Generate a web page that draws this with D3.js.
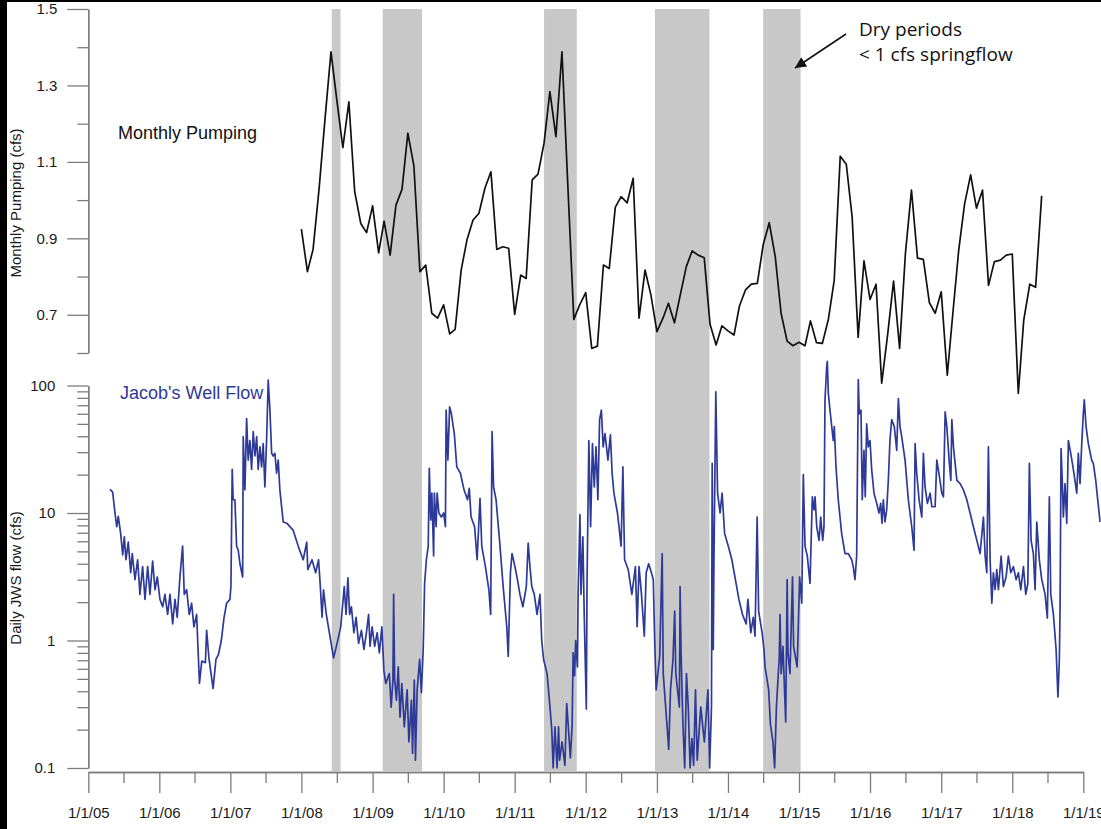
<!DOCTYPE html>
<html><head><meta charset="utf-8">
<script src="https://cdn.jsdelivr.net/npm/d3@7/dist/d3.min.js"></script>
<style>
body{margin:0;background:#fff;}
svg{display:block;font-family:Arial,"Liberation Sans",sans-serif;}
</style>
</head><body>
<svg id="chart" width="1101" height="829"></svg>
<script>
// ---------------- DATA ----------------
const xTickLabels = ["1/1/05","1/1/06","1/1/07","1/1/08","1/1/09","1/1/10","1/1/11","1/1/12","1/1/13","1/1/14","1/1/15","1/1/16","1/1/17","1/1/18","1/1/19"];
const pumpTickLabels = ["1.5","1.3","1.1","0.9","0.7"];
const pumpTickValues = [1.5,1.3,1.1,0.9,0.7];
const flowTickLabels = ["100","10","1","0.1"];
const flowTickValues = [100,10,1,0.1];

const dryPeriodStarts = ["2008-06-05","2009-02-22","2011-06-01","2012-12-22","2014-07-01"];
const dryPeriodEnds   = ["2008-07-20","2009-09-12","2011-11-16","2013-09-28","2015-01-09"];

const pumpStartMonth = "2008-01-01";
const pumpValues = [
 0.924,0.813,0.871,1.03,1.21,1.388,1.262,1.137,1.257,1.022,0.939,0.915,
 0.985,0.862,0.945,0.856,0.987,1.028,1.175,1.09,0.813,0.830,0.704,0.691,
 0.726,0.650,0.662,0.817,0.896,0.948,0.965,1.031,1.074,0.871,0.878,0.874,
 0.701,0.804,0.795,1.053,1.068,1.149,1.284,1.166,1.388,1.04,0.688,0.726,
 0.758,0.612,0.618,0.830,0.821,0.981,1.009,0.993,1.057,0.691,0.817,0.752,
 0.656,0.691,0.730,0.679,0.752,0.826,0.867,0.856,0.849,0.675,0.621,0.671,
 0.658,0.647,0.723,0.765,0.780,0.782,0.883,0.941,0.852,0.704,0.631,0.619,
 0.628,0.619,0.684,0.627,0.625,0.688,0.79,1.115,1.094,0.957,0.641,0.841,
 0.740,0.780,0.521,0.65,0.788,0.612,0.861,1.026,0.848,0.845,0.732,0.704,
 0.760,0.542,0.70,0.87,0.990,1.066,0.979,1.026,0.777,0.839,0.843,0.856,
 0.859,0.494,0.686,0.780,0.772,1.011
];

const flowYears = [
2005.305,2005.343,2005.376,2005.400,2005.422,2005.456,2005.484,2005.507,2005.530,2005.563,2005.597,2005.619,2005.657,2005.695,2005.727,2005.765,2005.798,2005.836,2005.868,2005.906,2005.939,2005.971,
2006.009,2006.047,2006.079,2006.117,2006.150,2006.188,2006.220,2006.252,2006.290,2006.328,2006.351,2006.385,2006.421,2006.455,2006.487,2006.525,2006.551,2006.565,2006.597,2006.648,2006.666,2006.698,2006.757,2006.797,2006.833,2006.873,2006.910,2006.947,2006.994,
2007.008,2007.026,2007.040,2007.064,2007.088,2007.111,2007.135,2007.173,2007.181,2007.205,2007.229,2007.251,2007.275,2007.299,2007.322,2007.346,2007.370,2007.392,2007.416,2007.440,2007.462,2007.486,2007.510,2007.533,2007.557,2007.581,2007.603,2007.627,2007.651,2007.674,2007.697,2007.744,2007.797,2007.885,2007.955,
2008.025,2008.075,2008.090,2008.149,2008.200,2008.241,2008.266,2008.290,2008.311,2008.350,2008.401,2008.452,2008.501,2008.552,2008.602,2008.627,2008.653,2008.677,2008.702,2008.737,2008.768,2008.803,2008.843,2008.878,2008.913,2008.944,2008.964,2008.993,
2009.029,2009.064,2009.095,2009.130,2009.159,2009.185,2009.235,2009.261,2009.286,2009.296,2009.310,2009.335,2009.361,2009.386,2009.411,2009.446,2009.486,2009.511,2009.546,2009.562,2009.587,2009.603,2009.627,2009.662,2009.687,2009.712,2009.732,2009.757,2009.783,2009.798,2009.818,2009.834,2009.859,2009.869,2009.894,2009.908,2009.933,2009.968,
2010.000,2010.025,2010.035,2010.060,2010.084,2010.109,2010.150,2010.185,2010.236,2010.287,2010.336,2010.361,2010.386,2010.436,2010.471,2010.512,2010.537,2010.588,2010.637,2010.662,2010.682,2010.703,2010.738,2010.787,2010.838,2010.889,2010.909,2010.940,2010.963,
2011.004,2011.039,2011.074,2011.115,2011.164,2011.190,2011.215,2011.241,2011.276,2011.315,2011.356,2011.381,2011.407,2011.456,2011.497,2011.522,2011.542,2011.567,2011.597,2011.618,2011.632,2011.667,2011.707,2011.733,2011.758,2011.784,2011.808,2011.823,2011.843,2011.859,2011.884,2011.893,2011.919,2011.934,2011.960,2011.979,
2012.009,2012.019,2012.044,2012.069,2012.095,2012.120,2012.145,2012.171,2012.195,2012.220,2012.245,2012.271,2012.312,2012.347,2012.371,2012.396,2012.446,2012.497,2012.522,2012.546,2012.597,2012.648,2012.698,2012.722,2012.749,2012.783,2012.823,2012.849,2012.884,2012.923,2012.949,2012.964,2012.975,2012.989,
2013.039,2013.074,2013.089,2013.166,2013.191,2013.226,2013.250,2013.266,2013.316,2013.326,2013.341,2013.366,2013.391,2013.416,2013.441,2013.467,2013.492,2013.517,2013.543,2013.567,2013.617,2013.668,2013.718,2013.742,2013.768,2013.778,2013.793,2013.803,2013.829,2013.854,2013.889,2013.918,2013.953,
2014.004,2014.055,2014.105,2014.154,2014.205,2014.256,2014.281,2014.321,2014.356,2014.381,2014.411,2014.432,2014.481,2014.507,2014.522,2014.573,2014.598,2014.633,2014.657,2014.682,2014.723,2014.733,2014.749,2014.774,2014.813,2014.833,2014.845,2014.873,2014.909,2014.924,2014.973,2014.984,
2015.009,2015.039,2015.061,2015.085,2015.117,2015.155,2015.188,2015.212,2015.226,2015.250,2015.282,2015.306,2015.334,2015.352,2015.366,2015.390,2015.399,2015.413,2015.437,2015.461,2015.483,2015.497,2015.521,2015.553,2015.601,2015.648,2015.694,2015.742,2015.764,2015.788,2015.812,2015.835,2015.849,2015.873,2015.891,2015.915,2015.933,2015.953,2015.976,
2016.000,2016.023,2016.056,2016.094,2016.126,2016.150,2016.168,2016.187,2016.210,2016.234,2016.257,2016.280,2016.304,2016.341,2016.375,2016.398,2016.421,2016.445,2016.492,2016.538,2016.586,2016.618,2016.633,2016.656,2016.689,2016.727,2016.749,2016.773,2016.806,2016.844,2016.868,2016.914,2016.938,2016.975,
2017.008,2017.031,2017.055,2017.079,2017.111,2017.135,2017.149,2017.172,2017.220,2017.266,2017.312,2017.360,2017.406,2017.453,2017.501,2017.547,2017.594,2017.618,2017.641,2017.664,2017.688,2017.712,2017.734,2017.758,2017.782,2017.805,2017.843,2017.875,2017.913,2017.945,2017.979,
2018.016,2018.054,2018.086,2018.120,2018.157,2018.190,2018.219,2018.241,2018.265,2018.297,2018.321,2018.345,2018.381,2018.415,2018.462,2018.494,2018.522,2018.542,2018.579,2018.603,2018.617,2018.643,2018.663,2018.673,2018.687,2018.705,2018.719,2018.743,2018.767,2018.790,2018.823,2018.860,2018.908,2018.930,2018.954,2018.978,
2019.000,2019.014,2019.039,2019.071,2019.118,2019.141,2019.175,2019.203,2019.236
];
const flowValues = [
15.3,14.6,10.0,7.8,9.4,6.9,4.7,6.5,4.3,5.9,3.4,4.8,3.0,4.3,2.3,3.8,2.1,3.8,2.3,4.2,2.5,3.15,
2.1,1.84,2.3,1.6,2.3,1.35,2.1,1.52,3.15,5.5,2.3,2.5,1.6,1.96,1.28,1.6,0.71,0.46,0.69,0.67,1.2,0.73,0.42,0.71,0.78,1.0,1.5,1.96,2.1,
2.65,22,12.7,12.7,5.5,5.1,4.0,3.15,39.7,15.2,55,26,37,22,43.5,28,39.7,22,33,23,35,16,37,110,64,29.4,28,29.4,20.5,26,15.2,8.5,8.3,7.3,5.5,
4.3,5.9,3.6,4.3,3.4,4.3,2.65,1.52,2.5,1.6,1.08,0.73,0.95,1.28,2.65,1.6,3.1,1.6,1.84,1.15,1.52,0.95,1.2,0.85,1.15,1.6,0.9,1.28,
0.9,1.15,0.8,1.28,0.58,0.46,0.55,0.3,0.49,2.3,0.5,0.34,0.62,0.25,0.46,0.21,0.41,0.16,0.34,0.13,0.49,0.115,0.41,0.71,0.39,0.85,2.8,4.3,5.5,22.4,8.8,14.3,4.6,14.3,7.8,14.3,10,9.3,
10,7.8,64,26,68,60,42,23,20.5,15.2,12.7,15.6,9.3,7.8,4.3,13,5.5,3.8,2.5,1.6,43.5,16,12.7,6.1,2.65,1.28,0.75,3.4,4.8,
3.8,3.0,2.3,1.84,2.65,5.8,3.8,2.65,2.3,1.6,2.3,1.0,0.71,0.55,0.3,0.2,0.1,0.21,0.1,0.21,0.115,0.16,0.105,0.32,0.2,0.12,0.21,0.8,0.53,1.0,0.62,2.3,9.7,2.3,6.5,1.6,
0.29,3.0,37,7.8,35,16,33,12.7,54,64,33,42,26,41,20.5,14.3,10,5.5,23,4.3,3.6,2.3,3.8,1.28,3.8,2.3,1.08,3.4,4.0,3.4,3.0,1.28,0.75,0.41,
0.75,4.8,0.55,0.14,0.41,0.71,1.7,0.55,0.3,2.65,0.75,0.22,0.1,0.55,0.3,0.1,0.17,0.105,0.41,0.115,0.3,0.16,0.41,0.1,0.3,24.5,0.85,4.3,89,14.3,10,14.3,6.9,
5.5,4.3,3.0,2.1,1.6,1.35,2.1,1.15,1.52,1.08,9.3,1.7,1.15,0.85,0.62,0.41,0.22,0.16,0.1,0.3,0.75,1.6,0.55,0.9,0.23,3.0,0.8,0.55,3.15,0.9,0.62,0.95,
3.15,1.96,20,5.5,4.6,2.8,13.4,10.6,13.4,7.8,6.1,9.3,6.1,7.8,77,140,155,87,64,47.6,37,47.6,23,12.7,6.9,4.8,4.8,4.3,3.8,3.0,4.6,111,60,64,12.7,31,13.4,50,33,
37,22,14.3,11.9,10,11.9,8.3,12.7,8.5,10.6,18,37,54,47.6,31,79,47.6,39.7,26,12.7,7.8,5.1,35,20.5,12.7,9.3,29.4,16,11.9,14.3,11.2,11.2,26,19.2,
14.3,13.4,62,47.6,26,18,54,33,18,17,15.2,12.7,10,7.8,6.1,4.8,9.3,4.6,3.4,33,4.3,1.96,3.4,2.5,3.6,2.5,4.6,2.65,3.15,4.6,3.4,
3.8,3.0,3.4,2.5,3.8,2.3,2.8,24.5,6.1,4.8,2.5,8.5,4.3,3.0,2.3,1.5,13.4,2.3,1.6,1.08,0.85,0.36,0.71,1.84,32,17,9.3,17,8.3,37,29.4,22,14.3,29.4,17,35,
60,77,47.6,35,26,24.5,18,12.7,8.5
];

// ---------------- CHART ----------------
const svg = d3.select("#chart");
const FONT = "Arial, 'Liberation Sans', sans-serif";
const AXIS_COLOR = "#7c7c7c";
const BLUE = "#2e3a98";

function decYear(t){
  const y = Math.floor(t);
  const a = Date.UTC(y,0,1), b = Date.UTC(y+1,0,1);
  return new Date(a + (t - y) * (b - a));
}
const parse = d3.utcParse("%Y-%m-%d");

const x = d3.scaleUtc()
  .domain([new Date(Date.UTC(2005,0,1)), new Date(Date.UTC(2019,0,1))])
  .range([88.3, 1083.3]);
const yPump = d3.scaleLinear().domain([0.6, 1.5]).range([353, 9]);
const yFlow = d3.scaleLog().domain([0.1, 100]).range([768, 385.5]);

svg.append("rect").attr("width",1101).attr("height",829).attr("fill","#fff");

// dry-period bands
const bands = dryPeriodStarts.map((s,i)=>({s:parse(s), e:parse(dryPeriodEnds[i])}));
svg.append("g").selectAll("rect").data(bands).join("rect")
  .attr("x", d=>x(d.s))
  .attr("width", d=>x(d.e)-x(d.s))
  .attr("y", yPump(1.5))
  .attr("height", yFlow(0.1) + 3 - yPump(1.5))
  .attr("fill", "#c8c8c8");

function styleAxis(g){
  g.select(".domain").attr("stroke", AXIS_COLOR).attr("stroke-width", 1.3);
  g.selectAll(".tick line").attr("stroke", AXIS_COLOR).attr("stroke-width", 1.3);
  g.selectAll(".tick text").attr("fill", "#1a1a1a")
    .style("font-size", "15px").style("font-family", FONT);
}

// pumping axis
svg.append("g").attr("transform","translate(88.3,0)")
  .call(d3.axisLeft(yPump).tickValues(pumpTickValues).tickSize(21).tickSizeOuter(0)
        .tickPadding(10).tickFormat((d,i)=>pumpTickLabels[i]))
  .call(styleAxis);
svg.append("g").attr("transform","translate(88.3,0)")
  .call(d3.axisLeft(yPump).tickValues([1.4,1.2,1.0,0.8,0.6]).tickSize(11).tickSizeOuter(0).tickFormat(""))
  .call(styleAxis);

// flow axis
const minorFlow = [];
[0.1,1,10].forEach(b=>{ for(let k=2;k<=9;k++) minorFlow.push(b*k); });
svg.append("g").attr("transform","translate(88.3,0)")
  .call(d3.axisLeft(yFlow).tickValues(flowTickValues).tickSize(21).tickSizeOuter(0)
        .tickPadding(12).tickFormat((d,i)=>flowTickLabels[i]))
  .call(styleAxis);
svg.append("g").attr("transform","translate(88.3,0)")
  .call(d3.axisLeft(yFlow).tickValues(minorFlow).tickSize(11).tickSizeOuter(0).tickFormat(""))
  .call(styleAxis);

// x axis
const yearTicks = d3.utcYear.range(new Date(Date.UTC(2005,0,1)), new Date(Date.UTC(2019,0,2)));
const midTicks = d3.utcYear.range(new Date(Date.UTC(2005,0,1)), new Date(Date.UTC(2019,0,1))).map(d=>d3.utcMonth.offset(d,6));
svg.append("g").attr("transform","translate(0,772)")
  .call(d3.axisBottom(x).tickValues(yearTicks).tickSize(21).tickSizeOuter(0)
        .tickPadding(14).tickFormat((d,i)=>xTickLabels[i]))
  .call(styleAxis);
svg.append("g").attr("transform","translate(0,772)")
  .call(d3.axisBottom(x).tickValues(midTicks).tickSize(11).tickSizeOuter(0).tickFormat(""))
  .call(styleAxis);

// axis titles
svg.append("text").attr("transform","translate(21,203) rotate(-90)")
  .attr("text-anchor","middle").style("font-family",FONT).style("font-size","15px")
  .attr("fill","#1a1a1a").text("Monthly Pumping (cfs)");
svg.append("text").attr("transform","translate(21,578) rotate(-90)")
  .attr("text-anchor","middle").style("font-family",FONT).style("font-size","15px")
  .attr("fill","#1a1a1a").text("Daily JWS flow (cfs)");

// flow line
const flowData = flowYears.map((t,i)=>({d:decYear(t), v:flowValues[i]}));
svg.append("path").datum(flowData)
  .attr("fill","none").attr("stroke",BLUE).attr("stroke-width",1.7).attr("stroke-linejoin","round")
  .attr("d", d3.line().x(d=>x(d.d)).y(d=>yFlow(d.v)));

// pumping line
const pStart = parse(pumpStartMonth);
const pumpData = pumpValues.map((v,i)=>({d:d3.utcMonth.offset(pStart,i), v}));
svg.append("path").datum(pumpData)
  .attr("fill","none").attr("stroke","#111").attr("stroke-width",1.7).attr("stroke-linejoin","round")
  .attr("d", d3.line().x(d=>x(d.d)).y(d=>yPump(d.v)));

// labels
svg.append("text").attr("x",118).attr("y",139).style("font-family",FONT).style("font-size","18px")
  .attr("fill","#111").text("Monthly Pumping");
svg.append("text").attr("x",120).attr("y",399).style("font-family",FONT).style("font-size","18px")
  .attr("fill",BLUE).text("Jacob's Well Flow");

// annotation
const ann = svg.append("text").style("font-family","'Open Sans', sans-serif").style("font-size","19px").attr("fill","#111");
ann.append("tspan").attr("x",859).attr("y",36).text("Dry periods");
ann.append("tspan").attr("x",859).attr("y",61).text("< 1 cfs springflow");

svg.append("defs").append("marker").attr("id","arrow")
  .attr("viewBox","0 0 10 10").attr("refX",10).attr("refY",5)
  .attr("markerWidth",14).attr("markerHeight",11).attr("markerUnits","userSpaceOnUse")
  .attr("orient","auto")
  .append("path").attr("d","M0,0L10,5L0,10z").attr("fill","#111");
svg.append("line").attr("x1",846).attr("y1",34).attr("x2",795).attr("y2",68)
  .attr("stroke","#111").attr("stroke-width",1.6).attr("marker-end","url(#arrow)");

// photo border
svg.append("rect").attr("x",0).attr("y",0).attr("width",7).attr("height",829).attr("fill","#000");
svg.append("rect").attr("x",0).attr("y",0).attr("width",1101).attr("height",2).attr("fill","#000");
</script>
</body></html>
